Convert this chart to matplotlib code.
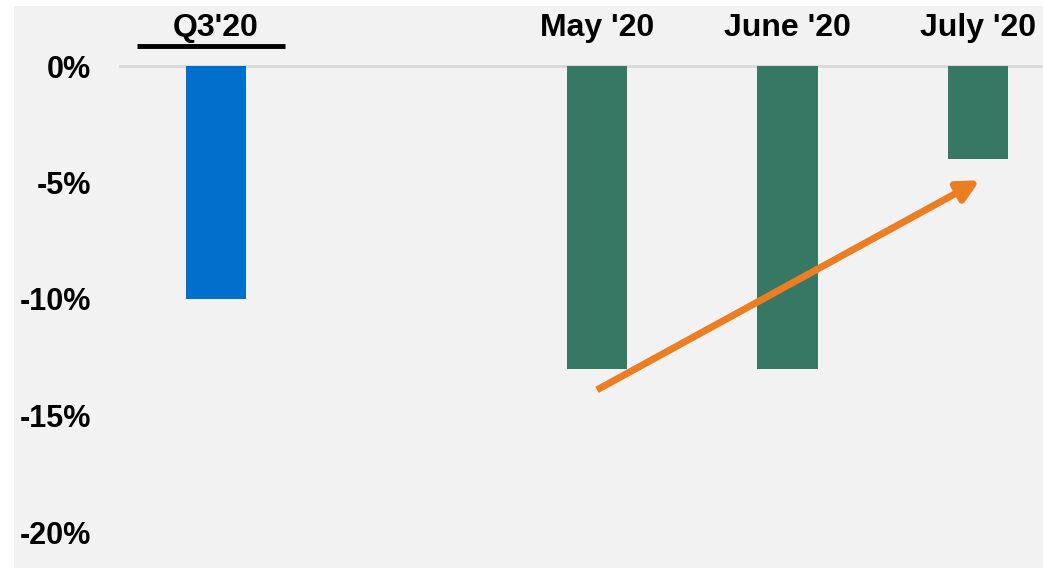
import numpy as np
import matplotlib.pyplot as plt

# data
labels = ["Q3'20", "May '20", "June '20", "July '20"]
positions = [0, 2, 3, 4]
values = [-10.0, -13.0, -13.0, -4.0]
colors = ['#0070CC', '#367864', '#367864', '#367864']
yticks = [0, -5, -10, -15, -20]
ytick_labels = ['0%', '-5%', '-10%', '-15%', '-20%']
arrow_start = (2.0, -13.9)
arrow_end = (4.01, -4.9)

plt.rcParams['font.family'] = ['Liberation Sans', 'DejaVu Sans']

W, H = 1043, 569
fig = plt.figure(figsize=(W / 100, H / 100), dpi=100, facecolor='white')
ax = fig.add_axes([14 / W, 1 - 568 / H, 1029 / W, 562 / H])
ax.set_facecolor('#F2F2F2')

ax.bar(positions, values, width=0.315, color=colors, zorder=2)

ax.set_xlim((14 - 216) / 190.5, (1043 - 216) / 190.5)
ax.set_ylim(-(568 - 66) / 23.3, (66 - 6) / 23.3)

# zero line
ax.axhline(0, xmin=(120 - 14) / 1029, xmax=1, color='#D9D9D9', lw=2, zorder=1)

# category labels on top
for p, lab in zip(positions, labels):
    ax.text(p, 1.65, lab, ha='center', va='center', fontsize=23,
            fontweight='bold', color='black')
ax.plot([(137 - 216) / 190.5, (285 - 216) / 190.5], [0.84, 0.84],
        color='black', lw=3.5, solid_capstyle='butt')

# y ticks
ax.set_yticks(yticks)
ax.set_yticklabels(ytick_labels, fontsize=22, fontweight='bold')
ax.tick_params(axis='y', length=0, pad=-(91 - 14) * 0.72)
ax.set_xticks([])
for s in ax.spines.values():
    s.set_visible(False)

ax.annotate('', xy=arrow_end, xytext=arrow_start,
            arrowprops=dict(arrowstyle='-|>', color='#ED7D23', lw=5,
                            mutation_scale=32, shrinkA=0, shrinkB=0,
                            capstyle='butt'),
            zorder=3)

fig.savefig('out.png', dpi=100, facecolor='white')
